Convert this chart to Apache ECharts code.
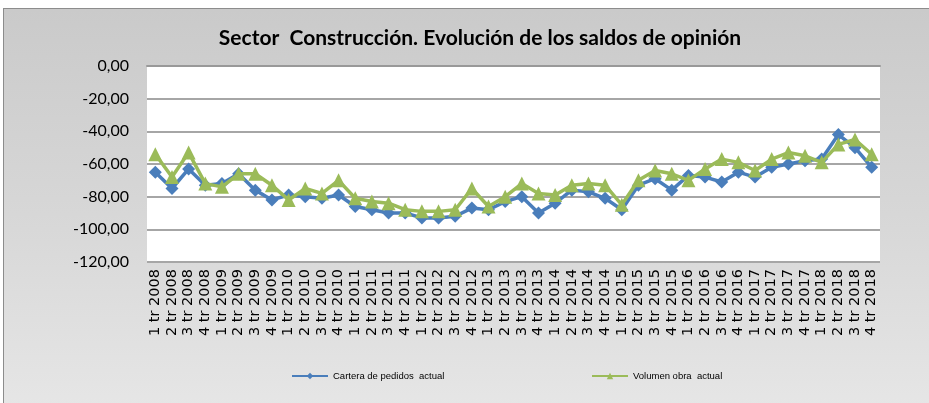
<!DOCTYPE html>
<html>
<head>
<meta charset="utf-8">
<script src="https://cdn.jsdelivr.net/npm/echarts@6/dist/echarts.min.js"></script>
<style>
  html, body { margin: 0; padding: 0; background: #ffffff; }
  #wrap { position: relative; width: 929px; height: 403px; overflow: hidden; }
  #bg {
    position: absolute; left: 3px; top: 8px; width: 930px; height: 400px;
    border: 1px solid #8c8c8c;
    background: linear-gradient(to bottom, #cacaca 0%, #d8d8d8 55%, #e6e6e6 100%);
  }
  #chart { position: absolute; left: 0; top: 0; width: 929px; height: 403px; }
</style>
</head>
<body>
<div id="wrap">
  <div id="bg"></div>
  <div id="chart"></div>
</div>
<script>
// trimestres
const quarters = [
  '1 tr 2008', '2 tr 2008', '3 tr 2008', '4 tr 2008',
  '1 tr 2009', '2 tr 2009', '3 tr 2009', '4 tr 2009',
  '1 tr 2010', '2 tr 2010', '3 tr 2010', '4 tr 2010',
  '1 tr 2011', '2 tr 2011', '3 tr 2011', '4 tr 2011',
  '1 tr 2012', '2 tr 2012', '3 tr 2012', '4 tr 2012',
  '1 tr 2013', '2 tr 2013', '3 tr 2013', '4 tr 2013',
  '1 tr 2014', '2 tr 2014', '3 tr 2014', '4 tr 2014',
  '1 tr 2015', '2 tr 2015', '3 tr 2015', '4 tr 2015',
  '1 tr 2016', '2 tr 2016', '3 tr 2016', '4 tr 2016',
  '1 tr 2017', '2 tr 2017', '3 tr 2017', '4 tr 2017',
  '1 tr 2018', '2 tr 2018', '3 tr 2018', '4 tr 2018'
];

const carteraPedidos = [
  -65, -75, -63, -73, -72, -66, -76, -82, -79, -80, -81, -79,
  -86, -88, -90, -90, -93, -93, -92, -87, -88, -83, -80, -90,
  -84, -76, -77, -81, -88, -73, -69, -76, -67, -68, -71, -65,
  -68, -62, -60, -58, -57, -42, -50, -62
];

const volumenObra = [
  -54, -68, -53, -72, -74, -66, -66, -73, -82, -75, -78, -70,
  -81, -83, -84, -88, -89, -89, -88, -75, -86, -80, -72, -78,
  -79, -73, -72, -73, -85, -70, -64, -66, -70, -63, -57, -59,
  -64, -57, -53, -55, -59, -48, -45, -54
];

const yTicks = { min: -120, max: 0, interval: 20 };

const legendText = { fontFamily: 'Liberation Sans', fontSize: 9.5, color: '#000000' };

const chart = echarts.init(document.getElementById('chart'));

chart.setOption({
  backgroundColor: 'transparent',
  animation: false,
  title: {
    text: 'Sector  Construcción. Evolución de los saldos de opinión',
    left: 475,
    top: 23,
    textAlign: 'center',
    textStyle: {
      fontFamily: 'Lato',
      fontWeight: 'bold',
      fontSize: 21,
      color: '#000000'
    }
  },
  legend: [
    {
      data: ['Cartera de pedidos  actual'],
      left: 286,
      top: 366,
      itemWidth: 36,
      itemHeight: 8,
      textStyle: legendText
    },
    {
      data: ['Volumen obra  actual'],
      left: 586,
      top: 366,
      itemWidth: 36,
      itemHeight: 8,
      textStyle: legendText
    }
  ],
  grid: {
    left: 147,
    top: 66,
    width: 733,
    height: 196,
    show: true,
    backgroundColor: '#ffffff',
    borderWidth: 0
  },
  xAxis: {
    type: 'category',
    data: quarters,
    boundaryGap: true,
    axisLine: { show: true, lineStyle: { color: '#999999', width: 2 } },
    axisTick: { show: false },
    axisLabel: {
      interval: 0,
      rotate: 90,
      margin: 7,
      fontFamily: 'DejaVu Sans',
      fontSize: 14.5,
      color: '#000000'
    }
  },
  yAxis: {
    type: 'value',
    min: yTicks.min,
    max: yTicks.max,
    interval: yTicks.interval,
    axisLine: { show: false },
    axisTick: { show: false },
    splitLine: { lineStyle: { color: '#a6a6a6', width: 2 } },
    axisLabel: {
      margin: 18,
      fontFamily: 'Lato',
      fontSize: 16,
      color: '#000000',
      formatter: function (v) {
        return v.toFixed(2).replace('.', ',');
      }
    }
  },
  series: [
    {
      name: 'Cartera de pedidos  actual',
      type: 'line',
      data: carteraPedidos,
      symbol: 'diamond',
      symbolSize: 13,
      lineStyle: { color: '#4a7ebb', width: 3.5 },
      itemStyle: { color: '#4a7ebb' },
      z: 2
    },
    {
      name: 'Volumen obra  actual',
      type: 'line',
      data: volumenObra,
      symbol: 'triangle',
      symbolSize: 14,
      lineStyle: { color: '#9bbb59', width: 3.5 },
      itemStyle: { color: '#9bbb59' },
      z: 3
    }
  ]
});
</script>
</body>
</html>
